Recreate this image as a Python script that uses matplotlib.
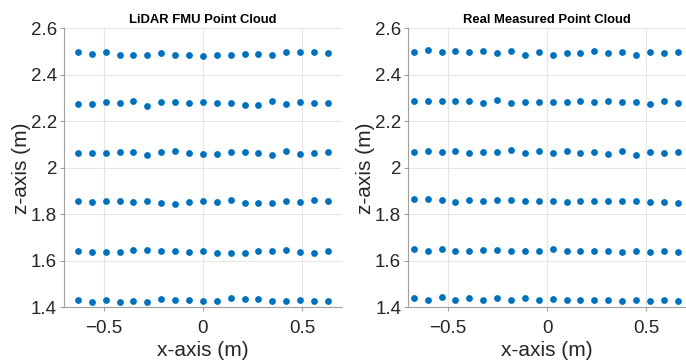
import matplotlib.pyplot as plt

plt.rcParams['font.family'] = ['Liberation Sans', 'DejaVu Sans']

# x positions of the points (m)
x_fmu = [-0.63, -0.56, -0.49, -0.42, -0.35, -0.28, -0.21, -0.14, -0.07, 0.0,
         0.07, 0.14, 0.21, 0.28, 0.35, 0.42, 0.49, 0.56, 0.63]
x_real = [-0.672, -0.602, -0.532, -0.462, -0.392, -0.322, -0.252, -0.182, -0.112, -0.042,
          0.028, 0.098, 0.168, 0.238, 0.308, 0.378, 0.448, 0.518, 0.588, 0.658]

# z values, one list per row (top to bottom)
fmu_rows = [
    [2.498, 2.489, 2.497, 2.484, 2.484, 2.485, 2.495, 2.487, 2.488, 2.481,
     2.487, 2.485, 2.491, 2.491, 2.484, 2.497, 2.497, 2.497, 2.494],
    [2.277, 2.277, 2.283, 2.280, 2.286, 2.268, 2.283, 2.284, 2.280, 2.283,
     2.278, 2.280, 2.270, 2.270, 2.286, 2.276, 2.283, 2.281, 2.278],
    [2.066, 2.063, 2.063, 2.070, 2.070, 2.056, 2.070, 2.073, 2.063, 2.059,
     2.062, 2.070, 2.067, 2.066, 2.057, 2.072, 2.060, 2.065, 2.069],
    [1.856, 1.853, 1.859, 1.859, 1.853, 1.859, 1.850, 1.846, 1.852, 1.856,
     1.855, 1.862, 1.849, 1.849, 1.850, 1.859, 1.855, 1.863, 1.857],
    [1.642, 1.638, 1.638, 1.639, 1.648, 1.648, 1.643, 1.641, 1.638, 1.642,
     1.635, 1.636, 1.633, 1.642, 1.645, 1.648, 1.639, 1.636, 1.643],
    [1.433, 1.424, 1.430, 1.424, 1.429, 1.424, 1.436, 1.430, 1.434, 1.429,
     1.429, 1.439, 1.436, 1.436, 1.429, 1.426, 1.434, 1.427, 1.429],
]
real_rows = [
    [2.498, 2.507, 2.498, 2.502, 2.498, 2.504, 2.494, 2.504, 2.485, 2.501,
     2.487, 2.495, 2.495, 2.504, 2.495, 2.499, 2.485, 2.497, 2.495, 2.498],
    [2.286, 2.286, 2.286, 2.290, 2.288, 2.281, 2.291, 2.281, 2.284, 2.284,
     2.283, 2.283, 2.288, 2.283, 2.288, 2.283, 2.284, 2.277, 2.290, 2.278],
    [2.070, 2.072, 2.067, 2.073, 2.066, 2.069, 2.067, 2.076, 2.066, 2.073,
     2.065, 2.073, 2.063, 2.069, 2.059, 2.072, 2.056, 2.070, 2.063, 2.070],
    [1.866, 1.866, 1.862, 1.855, 1.863, 1.857, 1.862, 1.862, 1.856, 1.860,
     1.860, 1.852, 1.860, 1.860, 1.860, 1.856, 1.859, 1.853, 1.855, 1.850],
    [1.651, 1.643, 1.652, 1.645, 1.645, 1.646, 1.648, 1.643, 1.643, 1.645,
     1.651, 1.642, 1.643, 1.643, 1.643, 1.638, 1.641, 1.638, 1.643, 1.638],
    [1.442, 1.433, 1.443, 1.433, 1.439, 1.432, 1.440, 1.433, 1.442, 1.433,
     1.437, 1.434, 1.434, 1.433, 1.434, 1.429, 1.433, 1.427, 1.433, 1.426],
]

titles = ['LiDAR FMU Point Cloud', 'Real Measured Point Cloud']
xticks = [-0.5, 0, 0.5]
xtick_labels = ['\u22120.5', '0', '0.5']
yticks = [1.4, 1.6, 1.8, 2.0, 2.2, 2.4, 2.6]
ytick_labels = ['1.4', '1.6', '1.8', '2', '2.2', '2.4', '2.6']

fig = plt.figure(figsize=(6.86, 3.63), dpi=100)
ax1 = fig.add_axes([0.0933, 0.153, 0.405, 0.7685])
ax2 = fig.add_axes([0.595, 0.153, 0.405, 0.7685])

for ax, xs, rows, title in [(ax1, x_fmu, fmu_rows, titles[0]),
                            (ax2, x_real, real_rows, titles[1])]:
    for zs in rows:
        ax.scatter(xs, zs, s=24, color='#0072BD', linewidths=0, zorder=3)
    ax.set_xlim(-0.7, 0.7)
    ax.set_ylim(1.4, 2.6)
    ax.set_xticks(xticks)
    ax.set_xticklabels(xtick_labels)
    ax.set_yticks(yticks)
    ax.set_yticklabels(ytick_labels)
    ax.grid(True, color='#e6e6e6', linewidth=0.8)
    ax.set_axisbelow(True)
    for side in ['top', 'right']:
        ax.spines[side].set_visible(False)
    for side in ['left', 'bottom']:
        ax.spines[side].set_color('#a0a0a0')
        ax.spines[side].set_linewidth(0.8)
    ax.tick_params(axis='both', labelsize=13.5, colors='#a0a0a0',
                   labelcolor='#262626', length=3, width=0.8, pad=2)
    ax.tick_params(axis='x', pad=6)
    ax.set_xlabel('x-axis (m)', fontsize=15, color='#262626', labelpad=3)
    ax.set_ylabel('z-axis (m)', fontsize=15, color='#262626', labelpad=0)
    ax.set_title(title, fontsize=9.4, fontweight='bold', pad=4)

plt.savefig('out.png', dpi=100)
plt.close()
